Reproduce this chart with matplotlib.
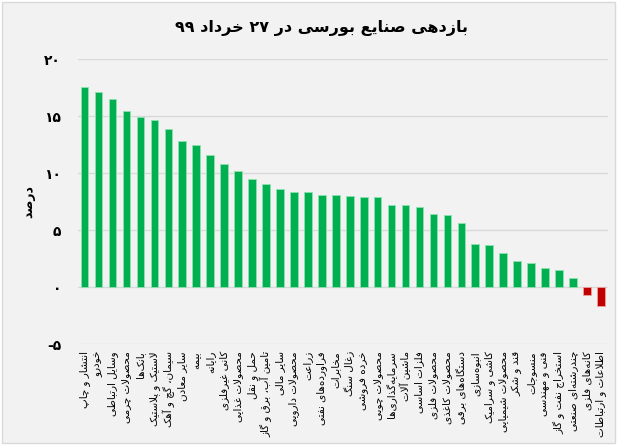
import re
import matplotlib
matplotlib.use("Agg")
import matplotlib.pyplot as plt
from matplotlib.patches import Rectangle

# data
industries = [
    "انتشار و چاپ", "خودرو", "وسایل ارتباطی", "محصولات چرمی", "بانک\u200cها",
    "لاستیک و پلاستیک", "سیمان، گچ و آهک", "سایر معادن", "بیمه", "رایانه",
    "کانی غیرفلزی", "محصولات غذایی", "حمل و نقل", "تامین آب، برق و گاز",
    "سایر مالی", "محصولات دارویی", "زراعت", "فراورده\u200cهای نفتی", "مخابرات",
    "زغال سنگ", "خرده فروشی", "محصولات چوبی", "سرمایه\u200cگذاری\u200cها",
    "ماشین آلات", "فلزات اساسی", "محصولات فلزی", "محصولات کاغذی",
    "دستگاه\u200cهای برقی", "انبوه\u200cسازی", "کاشی و سرامیک", "محصولات شیمیایی",
    "قند و شکر", "منسوجات", "فنی و مهندسی", "استخراج نفت و گاز",
    "چندرشته\u200cای صنعتی", "کانه\u200cهای فلزی", "اطلاعات و ارتباطات",
]
returns = [17.6, 17.1, 16.5, 15.5, 14.9, 14.7, 13.9, 12.8, 12.5, 11.6,
           10.8, 10.2, 9.5, 9.1, 8.6, 8.4, 8.4, 8.1, 8.1, 8.0,
           7.9, 7.9, 7.2, 7.2, 7.0, 6.4, 6.3, 5.6, 3.8, 3.7,
           3.0, 2.3, 2.1, 1.7, 1.5, 0.8, -0.7, -1.6]
y_ticks = [-5, 0, 5, 10, 15, 20]
title = "بازدهی صنایع بورسی در 27 خرداد 99"
y_label = "درصد"

# minimal arabic/persian shaping (matplotlib has no complex text layout)
# char: (isolated, final, initial, medial); None -> right-joining only
FORMS = {
    "ا": (0xFE8D, 0xFE8E, None, None), "آ": (0xFE81, 0xFE82, None, None),
    "ب": (0xFE8F, 0xFE90, 0xFE91, 0xFE92), "پ": (0xFB56, 0xFB57, 0xFB58, 0xFB59),
    "ت": (0xFE95, 0xFE96, 0xFE97, 0xFE98), "ث": (0xFE99, 0xFE9A, 0xFE9B, 0xFE9C),
    "ج": (0xFE9D, 0xFE9E, 0xFE9F, 0xFEA0), "چ": (0xFB7A, 0xFB7B, 0xFB7C, 0xFB7D),
    "ح": (0xFEA1, 0xFEA2, 0xFEA3, 0xFEA4), "خ": (0xFEA5, 0xFEA6, 0xFEA7, 0xFEA8),
    "د": (0xFEA9, 0xFEAA, None, None), "ذ": (0xFEAB, 0xFEAC, None, None),
    "ر": (0xFEAD, 0xFEAE, None, None), "ز": (0xFEAF, 0xFEB0, None, None),
    "ژ": (0xFB8A, 0xFB8B, None, None),
    "س": (0xFEB1, 0xFEB2, 0xFEB3, 0xFEB4), "ش": (0xFEB5, 0xFEB6, 0xFEB7, 0xFEB8),
    "ص": (0xFEB9, 0xFEBA, 0xFEBB, 0xFEBC), "ض": (0xFEBD, 0xFEBE, 0xFEBF, 0xFEC0),
    "ط": (0xFEC1, 0xFEC2, 0xFEC3, 0xFEC4), "ظ": (0xFEC5, 0xFEC6, 0xFEC7, 0xFEC8),
    "ع": (0xFEC9, 0xFECA, 0xFECB, 0xFECC), "غ": (0xFECD, 0xFECE, 0xFECF, 0xFED0),
    "ف": (0xFED1, 0xFED2, 0xFED3, 0xFED4), "ق": (0xFED5, 0xFED6, 0xFED7, 0xFED8),
    "ک": (0xFB8E, 0xFB8F, 0xFB90, 0xFB91), "گ": (0xFB92, 0xFB93, 0xFB94, 0xFB95),
    "ل": (0xFEDD, 0xFEDE, 0xFEDF, 0xFEE0), "م": (0xFEE1, 0xFEE2, 0xFEE3, 0xFEE4),
    "ن": (0xFEE5, 0xFEE6, 0xFEE7, 0xFEE8), "و": (0xFEED, 0xFEEE, None, None),
    "ه": (0xFEE9, 0xFEEA, 0xFEEB, 0xFEEC), "ی": (0xFBFC, 0xFBFD, 0xFBFE, 0xFBFF),
    "ئ": (0xFE89, 0xFE8A, 0xFE8B, 0xFE8C),
}
LAM_ALEF = {"ا": (0xFEFB, 0xFEFC), "آ": (0xFEF5, 0xFEF6)}
FA_DIGITS = str.maketrans("0123456789", "۰۱۲۳۴۵۶۷۸۹")


def dual(c):
    return c in FORMS and FORMS[c][2] is not None


def fa(text):
    text = text.translate(FA_DIGITS)
    out = []
    i = 0
    n = len(text)
    while i < n:
        c = text[i]
        prev = text[i - 1] if i > 0 else ""
        prev_joins = dual(prev) and not (i >= 2 and text[i - 2] == "ل" and prev in LAM_ALEF)
        if c == "ل" and i + 1 < n and text[i + 1] in LAM_ALEF:
            iso, fin = LAM_ALEF[text[i + 1]]
            out.append(chr(fin if prev_joins else iso))
            i += 2
            continue
        if c == "\u200c":
            i += 1
            continue
        if c not in FORMS:
            out.append(c)
            i += 1
            continue
        nxt = text[i + 1] if i + 1 < n else ""
        next_joins = nxt in FORMS
        iso, fin, ini, med = FORMS[c]
        if ini is None:
            form = fin if prev_joins else iso
        elif prev_joins and next_joins:
            form = med
        elif prev_joins:
            form = fin
        elif next_joins:
            form = ini
        else:
            form = iso
        out.append(chr(form))
        i += 1
    shaped = "".join(out)
    # visual order: reverse, keep digit runs left-to-right
    parts = re.split(r"([۰-۹]+)", shaped)
    parts = [p if re.fullmatch(r"[۰-۹]+", p) else p[::-1] for p in parts]
    return "".join(reversed(parts))


plt.rcParams["font.family"] = ["DejaVu Sans"]

fig = plt.figure(figsize=(6.19, 4.47), dpi=100)
fig.patch.set_facecolor("white")
fig.patches.append(Rectangle((0.004, 0.009), 0.99, 0.987, transform=fig.transFigure,
                             facecolor="#f2f2f2", edgecolor="#d9d9d9", linewidth=1, zorder=-10))

ax = fig.add_axes([0.1255, 0.2298, 0.8565, 0.6375])
ax.set_facecolor("none")

x = list(range(len(industries)))
colors = ["#00b050" if v >= 0 else "#c00000" for v in returns]
edges = ["#8ee0b0" if v >= 0 else "#f0a0a0" for v in returns]
ax.bar(x, returns, width=0.55, color=colors, edgecolor=edges, linewidth=0.6, zorder=3)

ax.set_xlim(-0.5, len(industries) - 0.5)
ax.set_ylim(-5, 20)
ax.set_yticks(y_ticks)
ax.set_yticklabels([str(t).translate(FA_DIGITS) for t in y_ticks], fontsize=10, fontweight="bold")
ax.grid(axis="y", color="#d9d9d9", linewidth=1, zorder=0)
ax.set_xticks([])
for s in ax.spines.values():
    s.set_visible(False)
ax.tick_params(axis="y", length=0, pad=12)

for xi, name in zip(x, industries):
    ax.text(xi, -5.6, fa(name), rotation=90, ha="center", va="top",
            fontsize=7.5, transform=ax.transData, clip_on=False)

ax.set_ylabel(fa(y_label), fontsize=9, fontweight="bold", labelpad=6)
fig.text(0.519, 0.937, fa(title), ha="center", va="center", fontsize=11.5, fontweight="bold")

fig.savefig("out.png", dpi=100)
